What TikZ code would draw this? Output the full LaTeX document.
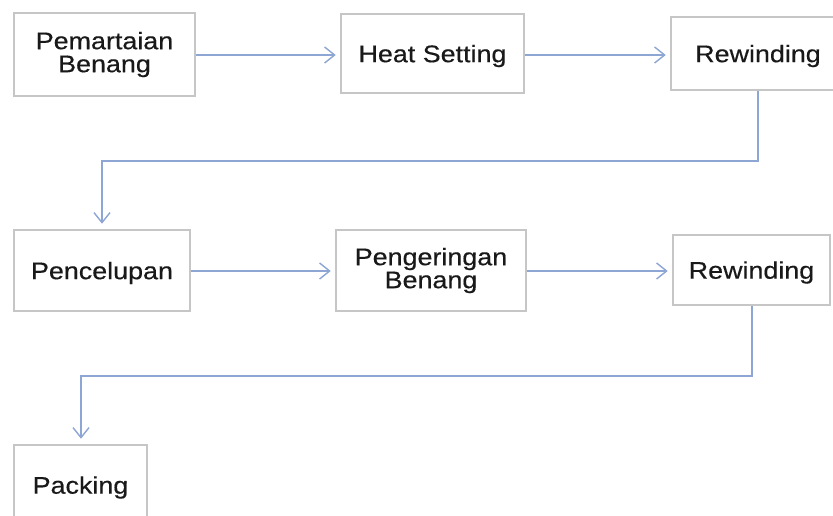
\documentclass[tikz,border=0pt]{standalone}
\usepackage{fontspec}
\setmainfont{Liberation Sans}[FakeStretch=1.12,FakeBold=0.4]
\usetikzlibrary{arrows.meta}
\definecolor{boxgray}{RGB}{198,198,198}
\definecolor{linkblue}{RGB}{142,166,212}
\begin{document}
\begin{tikzpicture}[x=1pt,y=-1pt,
  stepbox/.style={draw=boxgray, line width=2.6pt, fill=white, rectangle, inner sep=0pt,
    align=center, font=\fontsize{24}{23}\selectfont, text=black!90},
  onebox/.style={stepbox, text depth=-2pt},
  link/.style={draw=linkblue, line width=1.4pt,
    -{Straight Barb[length=10pt,width=16pt,line width=1.4pt]}, shorten >=4pt}]
\useasboundingbox (0,0) rectangle (833,516);
\clip (0,0) rectangle (833,516);
\fill[white] (0,0) rectangle (833,516);
% row 1
\node[stepbox, minimum width=181pt, minimum height=83pt] (pem) at (104.5,54.5) {Pemartaian\\Benang};
\node[onebox, minimum width=183pt, minimum height=79pt] (heat) at (432.5,53.5) {Heat Setting};
\node[onebox, minimum width=174pt, minimum height=73pt] (rew1) at (758,53.5) {Rewinding};
% row 2
\node[onebox, minimum width=176pt, minimum height=81pt] (pen) at (102,270.5) {Pencelupan};
\node[stepbox, minimum width=190pt, minimum height=81pt] (peng) at (431,270.5) {Pengeringan\\Benang};
\node[onebox, minimum width=157pt, minimum height=70pt] (rew2) at (751.5,270) {Rewinding};
% row 3
\node[onebox, minimum width=133pt, minimum height=80pt] (pack) at (80.5,485) {Packing};
% bend points
\coordinate (c1) at (758,161);
\coordinate (c2) at (102,161);
\coordinate (c3) at (752,376);
\coordinate (c4) at (81,376);
% connectors
\draw[link] (pem.east |- 0,55) -- (heat.west |- 0,55);
\draw[link] (heat.east |- 0,55) -- (rew1.west |- 0,55);
\draw[link, shorten >=5pt] (rew1.south -| c1) -- (c1) -- (c2) -- (c2 |- pen.north);
\draw[link] (pen.east |- 0,271) -- (peng.west |- 0,271);
\draw[link] (peng.east |- 0,271) -- (rew2.west |- 0,271);
\draw[link, shorten >=5pt] (rew2.south -| c3) -- (c3) -- (c4) -- (c4 |- pack.north);
\end{tikzpicture}
\end{document}
